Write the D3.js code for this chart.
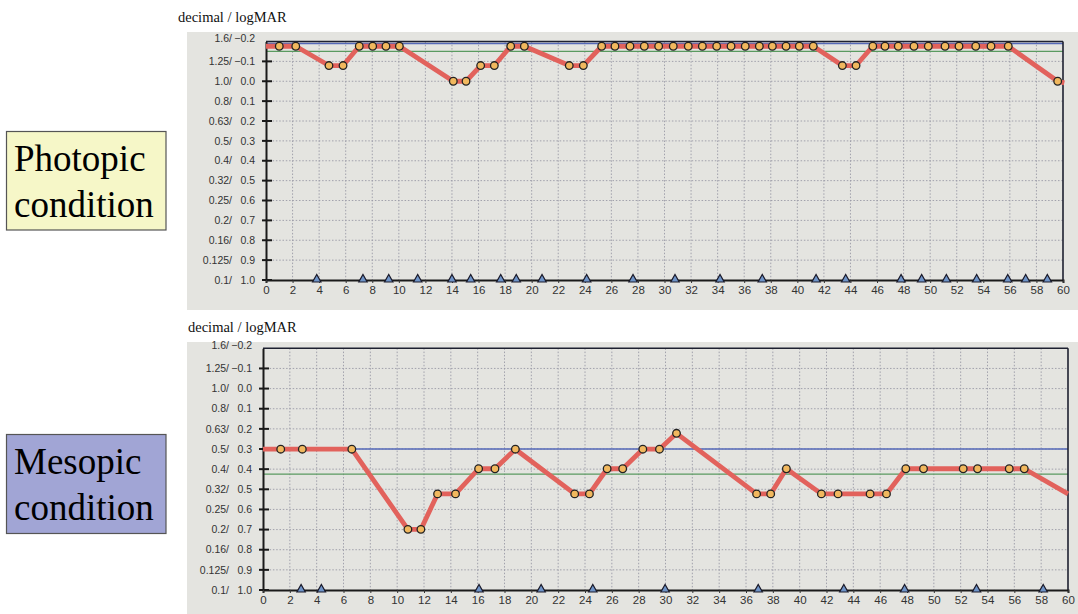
<!DOCTYPE html>
<html><head><meta charset="utf-8">
<script src="https://cdn.jsdelivr.net/npm/d3@7"></script>
<style>html,body{margin:0;padding:0;background:#fff;}svg{display:block;}</style>
</head><body>
<svg id="c" width="1078" height="614"></svg>
<script>
// ---- data ----
const logmarTicks = [-0.2,-0.1,0.0,0.1,0.2,0.3,0.4,0.5,0.6,0.7,0.8,0.9,1.0];
const decimalLabels = ["1.6/","1.25/","1.0/","0.8/","0.63/","0.5/","0.4/","0.32/","0.25/","0.2/","0.16/","0.125/","0.1/"];
const logmarLabels = ["\u22120.2","\u22120.1","0.0","0.1","0.2","0.3","0.4","0.5","0.6","0.7","0.8","0.9","1.0"];
const xTicks = d3.range(0, 61, 2);

// Photopic
const photopicTimes = [1.00,2.24,4.74,5.80,7.02,8.03,9.03,10.04,14.10,15.06,16.16,17.19,18.42,19.45,22.83,23.89,
  25.27,26.27,27.40,28.48,29.56,30.66,31.79,32.85,33.93,35.01,36.08,37.14,38.12,39.15,40.15,41.20,
  43.39,44.42,45.68,46.60,47.60,48.78,49.86,51.12,52.17,53.43,54.58,55.88,59.60];
const photopicValues = [-0.176,-0.176,-0.079,-0.079,-0.176,-0.176,-0.176,-0.176,0.0,0.0,-0.079,-0.079,-0.176,-0.176,-0.079,-0.079,
  -0.176,-0.176,-0.176,-0.176,-0.176,-0.176,-0.176,-0.176,-0.176,-0.176,-0.176,-0.176,-0.176,-0.176,-0.176,-0.176,
  -0.079,-0.079,-0.176,-0.176,-0.176,-0.176,-0.176,-0.176,-0.176,-0.176,-0.176,-0.176,0.0];
const photopicStart = [0, -0.176];
const photopicEnd = [60.1, 0.008];
const photopicTriangles = [3.82,7.30,9.24,11.42,14.00,15.41,17.67,18.84,20.78,24.14,27.63,30.79,34.18,37.36,41.41,43.64,47.81,49.36,51.22,53.50,55.84,57.19,58.82];
const photopicBlue = -0.19;
const photopicGreen = -0.15;

// Mesopic
const mesopicTimes = [1.32,2.93,6.62,10.80,11.77,13.01,14.35,16.07,17.29,18.81,23.23,24.33,25.65,26.81,28.31,29.55,30.82,
  36.79,37.84,39.01,41.62,42.86,45.25,46.47,47.91,49.23,52.19,53.26,55.62,56.74];
const mesopicValues = [0.301,0.301,0.301,0.699,0.699,0.523,0.523,0.398,0.398,0.301,0.523,0.523,0.398,0.398,0.301,0.301,0.222,
  0.523,0.523,0.398,0.523,0.523,0.523,0.523,0.398,0.398,0.398,0.398,0.398,0.398];
const mesopicStart = [0, 0.301];
const mesopicEnd = [60, 0.523];
const mesopicTriangles = [2.84,4.35,16.10,20.73,24.58,29.97,36.91,43.29,47.82,53.18,58.15];
const mesopicBlue = 0.30;
const mesopicGreen = 0.425;

// ---- drawing ----
const svg = d3.select("#c");
svg.append("rect").attr("width",1078).attr("height",614).attr("fill","#fff");

function panel(cfg){
  const g = svg.append("g");
  g.append("rect").attr("x",187).attr("y",cfg.panelTop).attr("width",891).attr("height",cfg.panelH).attr("fill","#e4e4e0");
  g.append("text").attr("x",cfg.titleX).attr("y",cfg.titleY).text("decimal / logMAR")
    .attr("font-family","'Liberation Serif','Times New Roman',serif").attr("font-size",14.5).attr("fill","#111");
  const x = d3.scaleLinear().domain([0,60]).range(cfg.xr);
  const y = d3.scaleLinear().domain([-0.2,1.0]).range(cfg.yr);
  const [x0,x1] = cfg.xr, [y0,y1] = cfg.yr;
  const grid = g.append("g").attr("stroke","#9a9aa6").attr("stroke-width",0.9).attr("stroke-dasharray","1.5,1.8");
  grid.selectAll("line.v").data(xTicks.filter(t=>t>0&&t<60)).join("line")
    .attr("x1",d=>x(d)).attr("x2",d=>x(d)).attr("y1",y0).attr("y2",y1);
  grid.selectAll("line.h").data(logmarTicks.filter(t=>t>-0.2&&t<1.0)).join("line")
    .attr("x1",x0).attr("x2",x1).attr("y1",d=>y(d)).attr("y2",d=>y(d));
  g.append("line").attr("x1",x0).attr("x2",x1).attr("y1",y(cfg.blue)).attr("y2",y(cfg.blue)).attr("stroke","#5468b8").attr("stroke-width",1.3);
  g.append("line").attr("x1",x0).attr("x2",x1).attr("y1",y(cfg.green)).attr("y2",y(cfg.green)).attr("stroke","#5a9a60").attr("stroke-width",1.3);
  g.append("line").attr("x1",x0).attr("x2",x1).attr("y1",y0).attr("y2",y0).attr("stroke","#1d2030").attr("stroke-width",1.6);
  g.append("line").attr("x1",x1).attr("x2",x1).attr("y1",y0).attr("y2",y1).attr("stroke","#1d2030").attr("stroke-width",1.6);
  const yAxis = d3.axisLeft(y).tickValues(logmarTicks).tickSize(0).tickFormat("");
  const ya = g.append("g").attr("transform",`translate(${x0},0)`).call(yAxis);
  ya.select(".domain").attr("stroke","#1a1a1a").attr("stroke-width",2);
  g.selectAll("line.yt").data(logmarTicks.slice(1)).join("line").attr("class","yt")
    .attr("x1",x0-4).attr("x2",x0+6).attr("y1",d=>y(d)).attr("y2",d=>y(d)).attr("stroke","#1a1a1a").attr("stroke-width",2);
  const lab = g.append("g").attr("font-family","'Liberation Sans',Arial,sans-serif").attr("font-size",10.5).attr("fill","#333");
  lab.selectAll("text.d").data(logmarTicks).join("text").attr("text-anchor","end")
    .attr("x",x0-34).attr("y",(d,i)=>y(d)+(i===0?-3:0)).attr("dy","0.35em").text((d,i)=>decimalLabels[i]);
  lab.selectAll("text.l").data(logmarTicks).join("text").attr("class","l").attr("text-anchor","end")
    .attr("x",x0-11).attr("y",(d,i)=>y(d)+(i===0?-3:0)).attr("dy","0.35em").text((d,i)=>logmarLabels[i]);
  const xAxis = d3.axisBottom(x).tickValues(xTicks).tickSize(3).tickPadding(3);
  const xa = g.append("g").attr("transform",`translate(0,${y1})`).call(xAxis);
  xa.select(".domain").attr("stroke","#1a1a1a").attr("stroke-width",2);
  xa.selectAll(".tick line").attr("stroke","#333");
  xa.selectAll(".tick text").attr("font-family","'Liberation Sans',Arial,sans-serif").attr("font-size",11.5).attr("fill","#333");
  const pts = [cfg.start].concat(cfg.times.map((t,i)=>[t,cfg.values[i]])).concat([cfg.end]);
  g.append("path").datum(pts).attr("d",d3.line().x(d=>x(d[0])).y(d=>y(d[1])))
    .attr("fill","none").attr("stroke","#e2625c").attr("stroke-width",4.8).attr("stroke-linejoin","round");
  g.selectAll("circle.p").data(cfg.times).join("circle")
    .attr("cx",d=>x(d)).attr("cy",(d,i)=>y(cfg.values[i])).attr("r",3.8)
    .attr("fill","#f1b85e").attr("stroke","#222").attr("stroke-width",1.3);
  g.selectAll("path.t").data(cfg.tri).join("path")
    .attr("d",d=>{const cx=x(d), by=y1+2; return `M${cx-4.2},${by}L${cx+4.2},${by}L${cx},${by-7.5}Z`;})
    .attr("fill","#6f94c8").attr("stroke","#1a1a2a").attr("stroke-width",1.2);
}

panel({panelTop:32,panelH:278,titleX:178,titleY:22,xr:[266,1063],yr:[41.5,280],
  times:photopicTimes,values:photopicValues,start:photopicStart,end:photopicEnd,tri:photopicTriangles,blue:photopicBlue,green:photopicGreen});
panel({panelTop:342,panelH:272,titleX:188,titleY:332,xr:[263,1068],yr:[348.3,590],
  times:mesopicTimes,values:mesopicValues,start:mesopicStart,end:mesopicEnd,tri:mesopicTriangles,blue:mesopicBlue,green:mesopicGreen});

function box(y, h, fill, lines){
  svg.append("rect").attr("x",6.5).attr("y",y).attr("width",159.5).attr("height",h).attr("fill",fill).attr("stroke","#555").attr("stroke-width",1.2);
  svg.selectAll(null).data(lines).join("text").attr("x",14).attr("y",(d,i)=>y+39+i*46.5).text(d=>d)
    .attr("font-family","'Liberation Serif','Times New Roman',serif").attr("font-size",37).attr("fill","#000");
}
box(131.5, 98.5, "#f6f7c8", ["Photopic","condition"]);
box(434.5, 99, "#a1a5d5", ["Mesopic","condition"]);
</script>
</body></html>
